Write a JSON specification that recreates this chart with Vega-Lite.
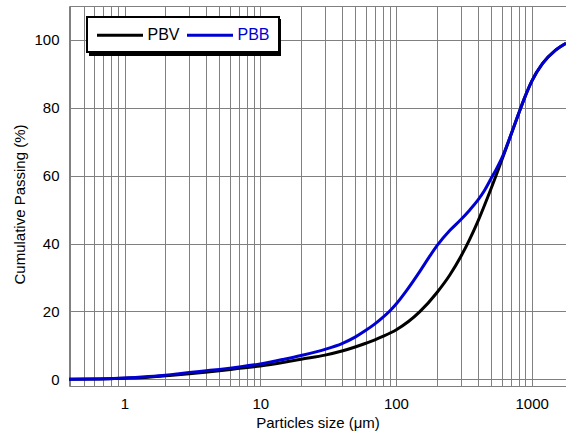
{
  "$schema": "https://vega.github.io/schema/vega-lite/v6.json",
  "width": 497,
  "height": 380,
  "autosize": {"type": "none"},
  "padding": {"left": 69, "top": 6, "right": 0, "bottom": 53},
  "background": "white",
  "config": {
    "font": "Liberation Sans",
    "view": {"stroke": "#808080", "strokeWidth": 1},
    "axis": {
      "labelFont": "Liberation Sans",
      "labelFontSize": 15,
      "labelColor": "#000000",
      "titleFont": "Liberation Sans",
      "titleFontSize": 15,
      "titleFontWeight": "normal",
      "titleColor": "#000000",
      "domain": false,
      "ticks": false,
      "grid": true,
      "gridColor": "#808080",
      "gridWidth": 1,
      "gridOpacity": 1
    },
    "legend": {
      "labelFont": "Liberation Sans",
      "labelFontSize": 16,
      "strokeWidth": 2
    }
  },
  "data": {
    "values": [
      {"size": 0.39, "passing": 0, "sample": "PBV"},
      {"size": 0.6, "passing": 0.05, "sample": "PBV"},
      {"size": 1, "passing": 0.3, "sample": "PBV"},
      {"size": 1.5, "passing": 0.6, "sample": "PBV"},
      {"size": 2, "passing": 1.0, "sample": "PBV"},
      {"size": 3, "passing": 1.6, "sample": "PBV"},
      {"size": 5, "passing": 2.5, "sample": "PBV"},
      {"size": 7, "passing": 3.2, "sample": "PBV"},
      {"size": 10, "passing": 3.9, "sample": "PBV"},
      {"size": 15, "passing": 5.0, "sample": "PBV"},
      {"size": 20, "passing": 5.9, "sample": "PBV"},
      {"size": 30, "passing": 7.1, "sample": "PBV"},
      {"size": 40, "passing": 8.3, "sample": "PBV"},
      {"size": 50, "passing": 9.5, "sample": "PBV"},
      {"size": 60, "passing": 10.6, "sample": "PBV"},
      {"size": 70, "passing": 11.6, "sample": "PBV"},
      {"size": 80, "passing": 12.6, "sample": "PBV"},
      {"size": 100, "passing": 14.5, "sample": "PBV"},
      {"size": 150, "passing": 19.9, "sample": "PBV"},
      {"size": 200, "passing": 25.5, "sample": "PBV"},
      {"size": 250, "passing": 30.8, "sample": "PBV"},
      {"size": 300, "passing": 36.1, "sample": "PBV"},
      {"size": 400, "passing": 46.4, "sample": "PBV"},
      {"size": 500, "passing": 56.0, "sample": "PBV"},
      {"size": 600, "passing": 64.4, "sample": "PBV"},
      {"size": 700, "passing": 71.8, "sample": "PBV"},
      {"size": 800, "passing": 78.2, "sample": "PBV"},
      {"size": 900, "passing": 83.6, "sample": "PBV"},
      {"size": 1000, "passing": 87.8, "sample": "PBV"},
      {"size": 1200, "passing": 93.0, "sample": "PBV"},
      {"size": 1500, "passing": 97.0, "sample": "PBV"},
      {"size": 1790, "passing": 99.0, "sample": "PBV"},
      {"size": 0.39, "passing": 0, "sample": "PBB"},
      {"size": 0.6, "passing": 0.05, "sample": "PBB"},
      {"size": 1, "passing": 0.35, "sample": "PBB"},
      {"size": 1.5, "passing": 0.8, "sample": "PBB"},
      {"size": 2, "passing": 1.2, "sample": "PBB"},
      {"size": 3, "passing": 2.0, "sample": "PBB"},
      {"size": 4, "passing": 2.5, "sample": "PBB"},
      {"size": 5, "passing": 2.9, "sample": "PBB"},
      {"size": 7, "passing": 3.6, "sample": "PBB"},
      {"size": 10, "passing": 4.5, "sample": "PBB"},
      {"size": 15, "passing": 5.9, "sample": "PBB"},
      {"size": 20, "passing": 7.0, "sample": "PBB"},
      {"size": 30, "passing": 8.8, "sample": "PBB"},
      {"size": 40, "passing": 10.5, "sample": "PBB"},
      {"size": 50, "passing": 12.4, "sample": "PBB"},
      {"size": 60, "passing": 14.4, "sample": "PBB"},
      {"size": 70, "passing": 16.3, "sample": "PBB"},
      {"size": 80, "passing": 18.2, "sample": "PBB"},
      {"size": 90, "passing": 20.1, "sample": "PBB"},
      {"size": 100, "passing": 22.1, "sample": "PBB"},
      {"size": 120, "passing": 26.2, "sample": "PBB"},
      {"size": 150, "passing": 31.8, "sample": "PBB"},
      {"size": 175, "passing": 35.9, "sample": "PBB"},
      {"size": 200, "passing": 39.3, "sample": "PBB"},
      {"size": 250, "passing": 43.9, "sample": "PBB"},
      {"size": 300, "passing": 47.0, "sample": "PBB"},
      {"size": 350, "passing": 49.9, "sample": "PBB"},
      {"size": 400, "passing": 52.7, "sample": "PBB"},
      {"size": 450, "passing": 55.7, "sample": "PBB"},
      {"size": 500, "passing": 59.0, "sample": "PBB"},
      {"size": 550, "passing": 62.0, "sample": "PBB"},
      {"size": 600, "passing": 65.0, "sample": "PBB"},
      {"size": 700, "passing": 71.8, "sample": "PBB"},
      {"size": 800, "passing": 78.2, "sample": "PBB"},
      {"size": 900, "passing": 83.6, "sample": "PBB"},
      {"size": 1000, "passing": 87.8, "sample": "PBB"},
      {"size": 1200, "passing": 93.0, "sample": "PBB"},
      {"size": 1500, "passing": 97.0, "sample": "PBB"},
      {"size": 1790, "passing": 99.0, "sample": "PBB"}
    ]
  },
  "mark": {"type": "line", "strokeWidth": 3, "interpolate": "monotone", "clip": true},
  "encoding": {
    "x": {
      "field": "size",
      "type": "quantitative",
      "scale": {"type": "log", "domain": [0.39, 1790], "nice": false},
      "axis": {
        "title": "Particles size (μm)",
        "values": [0.4, 0.5, 0.6, 0.7, 0.8, 0.9, 1, 2, 3, 4, 5, 6, 7, 8, 9, 10, 20, 30, 40, 50, 60, 70, 80, 90, 100, 200, 300, 400, 500, 600, 700, 800, 900, 1000],
        "labelExpr": "datum.value == 1 || datum.value == 10 || datum.value == 100 || datum.value == 1000 ? format(datum.value, 'd') : ''",
        "labelOverlap": false,
        "labelFlush": false,
        "labelPadding": 10,
        "titlePadding": 4
      }
    },
    "y": {
      "field": "passing",
      "type": "quantitative",
      "scale": {"domain": [-2, 110], "nice": false, "zero": false},
      "axis": {
        "title": "Cumulative Passing (%)",
        "values": [0, 20, 40, 60, 80, 100],
        "labelPadding": 10,
        "titlePadding": 6,
        "titleY": 198
      }
    },
    "stroke": {
      "field": "sample",
      "type": "nominal",
      "sort": ["PBV", "PBB"],
      "scale": {"range": ["#000000", "#0000d0"]},
      "legend": {
        "title": null,
        "orient": "none",
        "legendX": 18,
        "legendY": 11,
        "direction": "horizontal",
        "fillColor": "#ffffff",
        "strokeColor": "#000000",
        "padding": 8.5,
        "symbolType": "M-1,0L4.75,0",
        "symbolSize": 256,
        "symbolStrokeWidth": 3,
        "labelOffset": 33,
        "columnPadding": 0,
        "labelColor": {"expr": "datum.value === 'PBB' ? '#0000d0' : '#000000'"},
        "zindex": 2
      }
    },
    "opacity": {
      "field": "sample",
      "type": "ordinal",
      "scale": {"domain": ["PBV", "PBB"], "range": [1, 1]},
      "legend": {
        "title": null,
        "orient": "none",
        "legendX": 21,
        "legendY": 14,
        "direction": "horizontal",
        "fillColor": "#000000",
        "strokeColor": "#000000",
        "padding": 8.5,
        "symbolType": "M-1,0L4.75,0",
        "symbolSize": 256,
        "symbolStrokeWidth": 3,
        "symbolStrokeColor": "#000000",
        "labelExpr": "''",
        "labelOffset": 65,
        "columnPadding": 0,
        "labelColor": "#000000",
        "zindex": 1
      }
    }
  }
}
